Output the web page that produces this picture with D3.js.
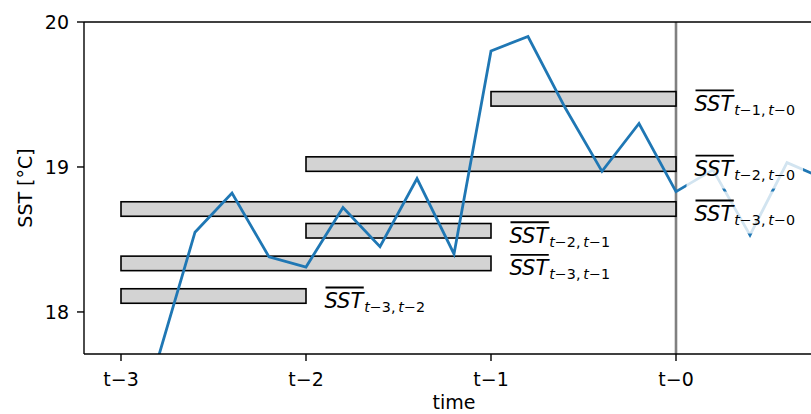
<!DOCTYPE html>
<html>
<head>
<meta charset="utf-8">
<script src="https://cdn.jsdelivr.net/npm/d3@7"></script>
<style>
  html, body { margin: 0; padding: 0; background: #fff; }
  svg { display: block; }
  text { font-family: "DejaVu Sans", sans-serif; fill: #000; }
</style>
</head>
<body>
<svg id="chart" width="811" height="414"></svg>
<script>
// ---- data ----
const timeTicks = [-3, -2, -1, 0];
const timeTickLabels = ["t\u22123", "t\u22122", "t\u22121", "t\u22120"];
const sstTicks = [18, 19, 20];
const sstTimes = [-2.8, -2.6, -2.4, -2.2, -2.0, -1.8, -1.6, -1.4, -1.2, -1.0,
                  -0.8, -0.6, -0.4, -0.2, 0.0, 0.2, 0.4, 0.6, 0.8];
const sstValues = [17.68, 18.55, 18.82, 18.38, 18.31, 18.72, 18.45, 18.92, 18.40, 19.80,
                   19.90, 19.41, 18.97, 19.30, 18.83, 18.98, 18.53, 19.03, 18.92];
const barStart = [-1, -2, -3, -2, -3, -3];
const barEnd   = [0, 0, 0, -1, -1, -2];
const barMean  = [19.47, 19.02, 18.71, 18.56, 18.335, 18.11];
const barSubA  = ["1", "2", "3", "2", "3", "3"];
const barSubB  = ["0", "0", "0", "1", "1", "2"];

// ---- layout ----
const svg = d3.select("#chart");
const L = 84, T = 22, R = 824, B = 354;
const x = d3.scaleLinear().domain([-3.2, 0.8]).range([L, R]);
const y = d3.scaleLinear().domain([17.71, 20.0]).range([B, T]);

svg.append("defs").append("clipPath").attr("id", "clip")
  .append("rect").attr("x", L).attr("y", T).attr("width", R - L).attr("height", B - T);

const plot = svg.append("g").attr("clip-path", "url(#clip)");

// vertical line at t-0
plot.append("line")
  .attr("x1", x(0)).attr("x2", x(0)).attr("y1", T).attr("y2", B)
  .attr("stroke", "#808080").attr("stroke-width", 2.6);

// bars
const barH = y(0) - y(0.1);
plot.selectAll("rect.bar").data(barMean).enter().append("rect")
  .attr("class", "bar")
  .attr("x", (d, i) => x(barStart[i]))
  .attr("width", (d, i) => x(barEnd[i]) - x(barStart[i]))
  .attr("y", d => y(d) - barH / 2)
  .attr("height", barH)
  .attr("fill", "#d3d3d3").attr("stroke", "#000").attr("stroke-width", 1.6);

// line
const line = d3.line().x((d, i) => x(sstTimes[i])).y(d => y(d));
plot.append("path").datum(sstValues)
  .attr("d", line).attr("fill", "none")
  .attr("stroke", "#1f77b4").attr("stroke-width", 2.8)
  .attr("stroke-linejoin", "miter").attr("stroke-linecap", "butt");

// labels (those at t-0 sit on a semi-transparent white box)
const labG = svg.append("g");
barMean.forEach((m, i) => {
  const g = labG.append("g");
  const x0 = x(barEnd[i]) + 18.5;
  const cy = y(m);
  const base = cy + 12;
  const box = g.append("rect").attr("fill", "#fff").attr("fill-opacity", 0.8);
  const sst = g.append("text").attr("x", x0).attr("y", base)
    .style("font-size", "21px").style("font-style", "italic").text("SST");
  const w = sst.node().getComputedTextLength();
  const sub = g.append("text").attr("x", x0 + w + 1).attr("y", base + 4)
    .style("font-size", "14.3px");
  sub.append("tspan").style("font-style", "italic").text("t");
  sub.append("tspan").text("\u2212" + barSubA[i] + ",\u2009");
  sub.append("tspan").style("font-style", "italic").text("t");
  sub.append("tspan").text("\u2212" + barSubB[i]);
  const sw = sub.node().getComputedTextLength();
  g.append("line").attr("x1", x0 + 1).attr("x2", x0 + w + 0.5)
    .attr("y1", base - 20.5).attr("y2", base - 20.5)
    .attr("stroke", "#000").attr("stroke-width", 1.8);
  if (barEnd[i] === 0) {
    box.attr("x", x0 - 8).attr("width", w + 1 + sw + 16)
      .attr("y", cy + 3.5 - 21).attr("height", 42);
  } else {
    box.remove();
  }
});

// spines
const spine = (x1, y1, x2, y2) => svg.append("line")
  .attr("x1", x1).attr("y1", y1).attr("x2", x2).attr("y2", y2)
  .attr("stroke", "#000").attr("stroke-width", 1.4);
spine(L, T, L, B);
spine(L, T, R, T);
spine(L, B, R, B);
spine(R, T, R, B);

// x ticks
const xt = svg.append("g");
timeTicks.forEach((t, i) => {
  xt.append("line").attr("x1", x(t)).attr("x2", x(t)).attr("y1", B).attr("y2", B + 7)
    .attr("stroke", "#000").attr("stroke-width", 1.4);
  xt.append("text").attr("x", x(t)).attr("y", 386).attr("text-anchor", "middle")
    .style("font-size", "19px").text(timeTickLabels[i]);
});
// y ticks
const yt = svg.append("g");
sstTicks.forEach(v => {
  yt.append("line").attr("x1", L - 7).attr("x2", L).attr("y1", y(v)).attr("y2", y(v))
    .attr("stroke", "#000").attr("stroke-width", 1.4);
  yt.append("text").attr("x", L - 15).attr("y", y(v)).attr("dy", "0.36em")
    .attr("text-anchor", "end").style("font-size", "19px").text(String(v));
});

// axis titles
svg.append("text").attr("x", (L + R) / 2).attr("y", 409).attr("text-anchor", "middle")
  .style("font-size", "19px").text("time");
svg.append("text").attr("transform", `translate(32,${(T + B) / 2}) rotate(-90)`)
  .attr("text-anchor", "middle").style("font-size", "19px").text("SST [\u00b0C]");
</script>
</body>
</html>
